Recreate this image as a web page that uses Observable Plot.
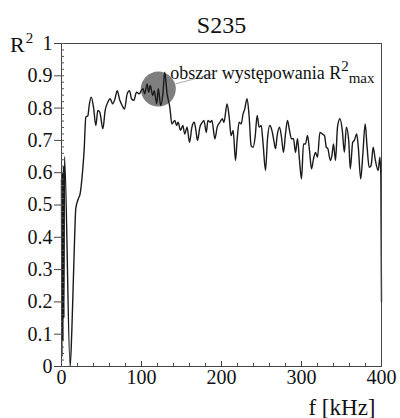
<!DOCTYPE html>
<html><head><meta charset="utf-8">
<script src="https://cdn.jsdelivr.net/npm/d3@7"></script>
<script src="https://cdn.jsdelivr.net/npm/@observablehq/plot@0.6"></script>
<style>body{margin:0;background:#fff;} svg{display:block;} svg, svg text, svg tspan {font-family: "Times New Roman", Times, Tinos, "Liberation Serif", "Noto Serif", "DejaVu Serif", serif !important;}</style>
</head><body><div id="chart"></div>
<script>
const freq = [0,0.6,1.2,1.8,2.4,3.0,3.75,10.8,12.9,15.8,17.9,21.2,23.3,26.2,28.3,30.4,33,34.6,37.1,40,42.9,45.4,47.9,51.7,54.6,57.9,60.8,64,67,69.6,72.9,75.8,78.75,82.1,85,87.5,90.4,93.75,97.1,99.6,102,104,107,109,111,114,116,119,121,124,126.7,129,132,135.4,138,141.7,143.75,145.8,148.75,151.7,154,157,160,163,166,168,170,173,176,178,181,183,186,188,191.7,194.6,198,201,203,207,209.6,212,214.6,217.5,219.5,222,224.6,227,229,232,234.6,237,239.6,242,244.6,247,249.6,252,255,257.5,260.4,263,265.4,267.5,269.6,272.5,275,277.5,280,282.5,285,287.5,290,292.5,295,297.5,300,302.5,305,307.5,310,312.5,315,317.5,320,323,326,328.75,331,333,336,338,340,342.5,345,348,351,353.6,356,359,361,364,366,369,371,374,376.7,379.6,382,384.6,387,389.6,392,395.8,398,399.2,400];
const r2 = [0.58,0.03,0.60,0.08,0.62,0.15,0.65,0.0,0.11,0.35,0.49,0.52,0.535,0.60,0.67,0.772,0.777,0.808,0.834,0.803,0.746,0.793,0.787,0.736,0.793,0.818,0.829,0.813,0.83,0.854,0.824,0.808,0.797,0.844,0.854,0.829,0.824,0.849,0.844,0.854,0.86,0.844,0.875,0.849,0.87,0.839,0.854,0.813,0.86,0.808,0.844,0.911,0.844,0.803,0.751,0.762,0.746,0.756,0.731,0.746,0.72,0.741,0.694,0.741,0.756,0.731,0.70,0.741,0.756,0.762,0.725,0.762,0.756,0.762,0.705,0.741,0.756,0.767,0.756,0.813,0.772,0.715,0.731,0.638,0.70,0.756,0.751,0.782,0.797,0.829,0.772,0.684,0.679,0.71,0.777,0.741,0.746,0.689,0.607,0.705,0.746,0.731,0.70,0.674,0.715,0.741,0.71,0.663,0.72,0.762,0.731,0.705,0.705,0.663,0.705,0.638,0.581,0.689,0.689,0.715,0.669,0.612,0.643,0.663,0.648,0.725,0.72,0.715,0.679,0.674,0.638,0.653,0.689,0.638,0.741,0.767,0.731,0.663,0.741,0.70,0.612,0.694,0.70,0.72,0.679,0.581,0.658,0.751,0.679,0.617,0.622,0.679,0.643,0.607,0.648,0.59,0.2];
const xTicks = [0, 100, 200, 300, 400];
const yTicks = [0, 0.1, 0.2, 0.3, 0.4, 0.5, 0.6, 0.7, 0.8, 0.9, 1];
const xMinor = d3.range(0, 401, 20);
const yMinor = d3.range(0, 51).map(i => i / 50);
const title = "S235";
const yLabelBase = "R";
const yLabelSup = "2";
const xLabel = "f [kHz]";
const noteText = "obszar występowania R";
const noteSup = "2";
const noteSub = "max";
const region = [{f: 121, r: 0.859}];
const leader = [{f1: 142.5, r1: 0.875, f2: 190.4, r2: 0.906}];
const noteAt = {f: 136.5, r: 0.889};

const data = freq.map((f, i) => ({f, r: r2[i]}));

const plot = Plot.plot({
  width: 400, height: 418,
  marginLeft: 61, marginRight: 19, marginTop: 43, marginBottom: 52,
  style: {fontSize: "20px", background: "#fff", color: "#111", overflow: "visible"},
  x: {domain: [0, 400]},
  y: {domain: [0, 1]},
  marks: [
    Plot.dot(region, {x: "f", y: "r", r: 17.5, fill: "#7f7f7f"}),
    Plot.link(leader, {x1: "f1", y1: "r1", x2: "f2", y2: "r2", stroke: "#aaa", strokeWidth: 1}),
    Plot.line(data, {x: "f", y: "r", stroke: "#1a1a1a", strokeWidth: 1.4, curve: "monotone-x"}),
    Plot.frame({stroke: "#444"}),
    Plot.tickY(yMinor, {y: d => d, insetRight: 317, stroke: "#555"}),
    Plot.tickX(xMinor, {x: d => d, insetTop: 320, stroke: "#555"}),
    Plot.tickX(xTicks, {x: d => d, insetTop: 318, stroke: "#444"}),
    Plot.axisY({ticks: yTicks, tickFormat: d => String(d), tickSize: 7, tickPadding: 2, label: null, stroke: "#444"}),
    Plot.axisX({ticks: xTicks, tickFormat: d => String(d), tickSize: 0, tickPadding: 3, label: null}),
    Plot.text([title], {frameAnchor: "top", lineAnchor: "bottom", dy: -11, fontSize: 24, fill: "#111"}),
    Plot.text([xLabel], {frameAnchor: "bottom-right", textAnchor: "end", lineAnchor: "bottom", dx: -6, dy: 48, fontSize: 23, fill: "#111"})
  ]
});

const svg = d3.select(plot);
const xs = plot.scale("x"), ys = plot.scale("y");

const yl = svg.append("text")
  .attr("x", xs.apply(0) - 51).attr("y", ys.apply(1) + 9)
  .attr("text-anchor", "start").attr("font-size", 22).attr("fill", "#111");
yl.append("tspan").text(yLabelBase);
yl.append("tspan").attr("font-size", 15).attr("dy", -9).attr("dx", 1).text(yLabelSup);

const t = svg.append("text")
  .attr("x", xs.apply(noteAt.f)).attr("y", ys.apply(noteAt.r))
  .attr("text-anchor", "start")
  .attr("font-size", 18).attr("fill", "#111");
t.append("tspan").text(noteText);
t.append("tspan").attr("font-size", 15).attr("dy", -8).text(noteSup);
t.append("tspan").attr("font-size", 15).attr("dy", 12).text(noteSub);

document.getElementById("chart").appendChild(plot);
</script>
</body></html>
